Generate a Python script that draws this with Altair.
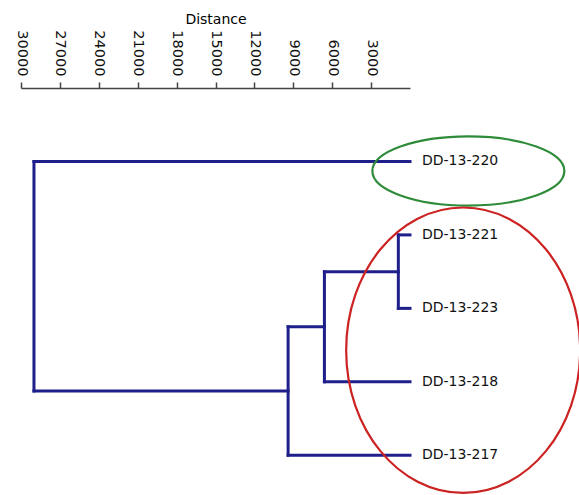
import altair as alt
import pandas as pd

# ---- data ----
leaves = ["DD-13-220", "DD-13-221", "DD-13-223", "DD-13-218", "DD-13-217"]
# merges: (child a, child b, distance)  children: leaf names or merge index "m0".."m3"
merge_a = ["DD-13-221", "m0", "m1", "DD-13-220"]
merge_b = ["DD-13-223", "DD-13-218", "DD-13-217", "m2"]
merge_dist = [900, 6600, 9400, 29000]
tick_values = [30000, 27000, 24000, 21000, 18000, 15000, 12000, 9000, 6000, 3000]

# group annotations (ellipses)
group_names = ["green", "red"]
group_dist = [-4500, -4100]
group_row = [0.13, 2.57]

# ---- build dendrogram segments ----
pos = {name: (0.0, float(i)) for i, name in enumerate(leaves)}
segs = []
for k, (a, b, d) in enumerate(zip(merge_a, merge_b, merge_dist)):
    xa, ya = pos[a]
    xb, yb = pos[b]
    segs.append({"x": d, "x2": d, "y": ya, "y2": yb})
    segs.append({"x": xa, "x2": d, "y": ya, "y2": ya})
    segs.append({"x": xb, "x2": d, "y": yb, "y2": yb})
    pos[f"m{k}"] = (d, (ya + yb) / 2)
seg_df = pd.DataFrame(segs)
leaf_df = pd.DataFrame({"name": leaves, "row": list(range(len(leaves))), "d": [0] * len(leaves)})
grp_df = pd.DataFrame({"g": group_names, "d": group_dist, "row": group_row})

W, H = 389, 404
xscale = alt.Scale(domain=[0, 30000], reverse=True, nice=False, zero=False)
yscale = alt.Scale(domain=[-1, 4.5], reverse=True, nice=False, zero=False)

xaxis = alt.Axis(
    orient="top", values=tick_values, format="d", labelAngle=90, labelAlign="right",
    labelBaseline="middle", labelFont="DejaVu Sans", labelFontSize=14.5,
    labelColor="#111111", labelPadding=6, tickSize=6, tickColor="#444444",
    tickWidth=1.5, domainColor="#444444", domainWidth=1.5, grid=False,
    title="Distance", titleFont="DejaVu Sans", titleFontSize=14,
    titleFontWeight="normal", titleColor="#000000", titlePadding=3,
)

lines = alt.Chart(seg_df).mark_rule(color="#1f1f8c", strokeWidth=3, strokeCap="square").encode(
    x=alt.X("x:Q", scale=xscale, axis=xaxis),
    x2="x2:Q",
    y=alt.Y("y:Q", scale=yscale, axis=None),
    y2="y2:Q",
)

labels = alt.Chart(leaf_df).mark_text(
    align="left", baseline="middle", dx=12, font="DejaVu Sans", fontSize=14, color="#111111"
).encode(
    x=alt.X("d:Q", scale=xscale),
    y=alt.Y("row:Q", scale=yscale),
    text="name:N",
)

green = alt.Chart(grp_df[grp_df.g == "green"]).mark_point(
    shape="M -1 0 A 1 0.36 0 1 0 1 0 A 1 0.36 0 1 0 -1 0",
    size=192 * 192, filled=False, stroke="#2e8b3a", strokeWidth=2.2, opacity=1,
).encode(x=alt.X("d:Q", scale=xscale), y=alt.Y("row:Q", scale=yscale))

red = alt.Chart(grp_df[grp_df.g == "red"]).mark_point(
    shape="M -1 0 A 1 1.22 0 1 0 1 0 A 1 1.22 0 1 0 -1 0",
    size=234 * 234, filled=False, stroke="#cc2222", strokeWidth=2.2, opacity=1,
).encode(x=alt.X("d:Q", scale=xscale), y=alt.Y("row:Q", scale=yscale))

chart = alt.layer(lines, labels, green, red).properties(
    width=W, height=H,
    background="white",
    autosize=alt.AutoSizeParams(type="none"),
    padding={"left": 21, "top": 88, "right": 579 - 21 - W, "bottom": 495 - 88 - H},
).configure_view(strokeWidth=0, stroke=None)

chart.save("out.html", embed_options={"renderer": "svg", "actions": False})
